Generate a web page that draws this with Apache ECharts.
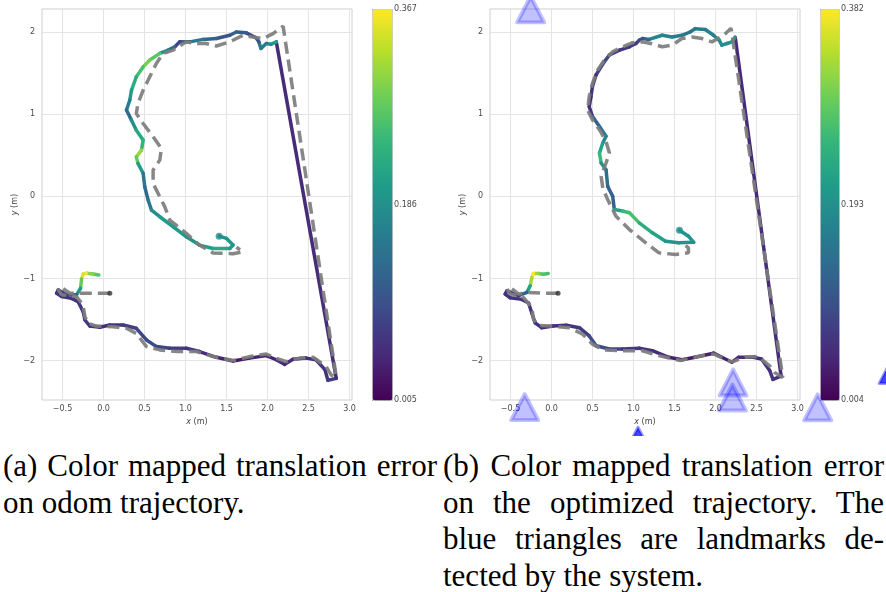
<!DOCTYPE html>
<html><head><meta charset="utf-8">
<script src="https://cdn.jsdelivr.net/npm/echarts@6/dist/echarts.min.js"></script>
<style>
html,body{margin:0;padding:0;background:#fff;overflow:hidden;width:886px;height:592px;}
#chart{position:absolute;left:0;top:0;width:886px;height:436px;}
.cap{position:absolute;font-family:'Liberation Serif','DejaVu Serif',serif;font-size:31px;line-height:36.7px;color:#000;white-space:nowrap;}
.j{text-align:justify;text-align-last:justify;}
</style></head><body>
<div id="chart"></div>
<div class="cap" style="left:3px;top:448px;width:434px;"><div class="j">(a) Color mapped translation error</div><div>on odom trajectory.</div></div>
<div class="cap" style="left:443px;top:448px;width:441px;"><div class="j">(b) Color mapped translation error</div><div class="j">on the optimized trajectory. The</div><div class="j">blue triangles are landmarks de-</div><div>tected by the system.</div></div>
<script>
const viridis = ['#440154','#482878','#3e4989','#31688e','#26828e','#1f9e89','#35b779','#6ece58','#b5de2b','#fde725'];

// (a) odometry trajectory: x, y, translation error
const odomX = [-0.057,-0.126,-0.207,-0.248,-0.268,-0.28,-0.329,-0.45,-0.552,-0.572,-0.51,-0.39,-0.309,-0.248,-0.227,-0.166,-0.045,0.077,0.24,0.40,0.524,0.646,0.808,1.01,1.17,1.376,1.58,1.78,1.985,2.107,2.21,2.31,2.47,2.59,2.70,2.736,2.838,2.107,2.04,1.985,1.92,1.894,1.86,1.74,1.62,1.54,1.376,1.214,1.05,0.93,0.87,0.788,0.686,0.564,0.483,0.40,0.341,0.32,0.28,0.341,0.40,0.483,0.463,0.40,0.42,0.483,0.503,0.544,0.585,0.686,0.85,1.01,1.17,1.336,1.54,1.58,1.50,1.41];
const odomY = [-0.959,-0.946,-0.938,-0.946,-1.008,-1.12,-1.20,-1.20,-1.14,-1.18,-1.22,-1.243,-1.283,-1.405,-1.506,-1.58,-1.595,-1.567,-1.567,-1.607,-1.749,-1.83,-1.85,-1.85,-1.89,-1.96,-2.005,-1.97,-1.94,-1.99,-2.046,-1.985,-1.97,-1.99,-2.11,-2.24,-2.217,1.88,1.85,1.86,1.80,1.88,1.93,1.99,2.0,1.96,1.92,1.91,1.88,1.88,1.82,1.78,1.74,1.66,1.575,1.455,1.29,1.17,1.05,0.927,0.805,0.684,0.562,0.48,0.40,0.28,0.116,-0.046,-0.168,-0.249,-0.371,-0.493,-0.594,-0.635,-0.635,-0.594,-0.513,-0.485];
const odomErr = [0.27,0.30,0.36,0.35,0.28,0.20,0.12,0.07,0.06,0.06,0.06,0.06,0.06,0.07,0.07,0.06,0.05,0.06,0.07,0.08,0.09,0.08,0.07,0.06,0.05,0.04,0.03,0.04,0.04,0.05,0.05,0.05,0.05,0.06,0.06,0.07,0.05,0.20,0.18,0.16,0.15,0.10,0.08,0.11,0.12,0.10,0.12,0.15,0.12,0.08,0.12,0.18,0.27,0.29,0.26,0.23,0.20,0.16,0.13,0.19,0.22,0.24,0.31,0.28,0.20,0.15,0.13,0.15,0.18,0.20,0.20,0.19,0.20,0.22,0.20,0.20,0.19,0.18];
// (a) ground truth
const gtAX = [0.077,-0.166,-0.41,-0.53,-0.55,-0.51,-0.33,-0.25,-0.227,-0.187,-0.085,0.118,0.28,0.40,0.524,0.686,0.89,1.13,1.336,1.58,1.82,1.985,2.107,2.23,2.39,2.556,2.716,2.777,2.838,2.19,2.067,1.945,1.82,1.70,1.54,1.376,1.25,1.13,1.01,0.85,0.727,0.646,0.564,0.483,0.42,0.40,0.483,0.605,0.706,0.686,0.605,0.605,0.666,0.747,0.808,1.01,1.17,1.336,1.58,1.70,1.62];
const gtAY = [-1.18,-1.18,-1.18,-1.10,-1.14,-1.20,-1.22,-1.32,-1.466,-1.547,-1.58,-1.587,-1.607,-1.67,-1.83,-1.87,-1.89,-1.89,-1.95,-2.0,-1.945,-1.92,-1.973,-2.013,-1.97,-1.96,-2.074,-2.176,-2.20,2.07,1.98,1.92,1.94,1.96,1.88,1.83,1.86,1.86,1.88,1.78,1.74,1.62,1.455,1.29,1.13,1.007,0.886,0.724,0.582,0.44,0.32,0.157,0.035,-0.128,-0.29,-0.452,-0.594,-0.69,-0.70,-0.675,-0.62];

// (b) optimized trajectory
const optX = [-0.04,-0.10,-0.16,-0.22,-0.24,-0.26,-0.30,-0.40,-0.544,-0.565,-0.504,-0.363,-0.28,-0.24,-0.20,-0.12,0.02,0.18,0.34,0.46,0.544,0.706,0.867,1.07,1.23,1.43,1.59,1.75,1.976,2.077,2.20,2.28,2.46,2.56,2.66,2.70,2.80,2.24,2.20,2.14,2.077,2.044,1.976,1.875,1.75,1.69,1.59,1.47,1.35,1.19,1.11,1.07,1.03,0.95,0.83,0.706,0.645,0.544,0.50,0.48,0.46,0.50,0.585,0.665,0.625,0.585,0.605,0.665,0.685,0.746,0.766,0.867,0.95,1.07,1.23,1.39,1.55,1.734,1.67,1.56];
const optY = [-0.94,-0.95,-0.94,-0.94,-0.99,-1.09,-1.17,-1.21,-1.15,-1.19,-1.235,-1.255,-1.30,-1.42,-1.54,-1.60,-1.58,-1.57,-1.60,-1.70,-1.82,-1.86,-1.86,-1.85,-1.88,-1.96,-1.99,-1.96,-1.91,-1.96,-2.02,-1.96,-1.96,-1.98,-2.12,-2.23,-2.19,1.935,1.88,1.86,1.84,1.90,1.96,2.03,2.04,2.0,1.96,1.94,1.96,1.91,1.92,1.90,1.86,1.82,1.78,1.72,1.64,1.48,1.34,1.21,1.09,0.97,0.85,0.73,0.648,0.526,0.405,0.324,0.121,0.0,-0.162,-0.18,-0.20,-0.324,-0.445,-0.547,-0.567,-0.56,-0.486,-0.413];
const optErr = [0.27,0.28,0.32,0.38,0.33,0.22,0.12,0.07,0.06,0.06,0.06,0.06,0.06,0.06,0.06,0.05,0.05,0.06,0.07,0.09,0.09,0.08,0.07,0.06,0.05,0.04,0.03,0.04,0.04,0.04,0.04,0.05,0.05,0.06,0.06,0.06,0.05,0.20,0.20,0.19,0.19,0.18,0.17,0.16,0.16,0.15,0.16,0.17,0.18,0.13,0.10,0.08,0.07,0.06,0.07,0.09,0.08,0.06,0.06,0.05,0.06,0.12,0.15,0.18,0.22,0.26,0.20,0.14,0.12,0.12,0.22,0.26,0.27,0.24,0.22,0.20,0.20,0.20,0.20,0.19];
// (b) ground truth
const gtBX = [0.08,-0.1,-0.28,-0.40,-0.504,-0.544,-0.50,-0.34,-0.24,-0.22,-0.16,-0.02,0.22,0.38,0.50,0.625,0.867,1.11,1.31,1.57,1.79,1.976,2.10,2.20,2.36,2.52,2.66,2.72,2.82,2.19,2.10,1.956,1.835,1.71,1.59,1.47,1.35,1.21,1.11,0.99,0.867,0.746,0.645,0.565,0.50,0.46,0.44,0.50,0.585,0.665,0.706,0.665,0.605,0.625,0.685,0.786,0.95,1.15,1.31,1.51,1.67,1.67,1.62];
const gtBY = [-1.18,-1.18,-1.17,-1.19,-1.11,-1.13,-1.19,-1.235,-1.356,-1.50,-1.57,-1.58,-1.60,-1.68,-1.80,-1.87,-1.88,-1.88,-1.94,-2.0,-1.95,-1.92,-1.976,-2.016,-1.96,-1.95,-2.065,-2.146,-2.206,2.045,1.96,1.88,1.92,1.94,1.92,1.84,1.82,1.86,1.88,1.87,1.82,1.76,1.66,1.54,1.376,1.215,1.05,0.93,0.81,0.668,0.526,0.405,0.243,0.10,-0.04,-0.243,-0.405,-0.567,-0.688,-0.708,-0.688,-0.628,-0.59];

// landmarks
const lmX = [-0.254,-0.327,2.214,2.206,3.246];
const lmY = [2.275,-2.567,-2.267,-2.45,-2.57];
const lmSolidX = [1.055,4.16];
const lmSolidY = [-2.97,-2.12];

// ticks
const xTicks = [-0.5,0,0.5,1,1.5,2,2.5,3];
const yTicks = [-2,-1,0,1,2];
const cbTicksA = [0.005,0.186,0.367];
const cbTicksB = [0.004,0.193,0.382];

const minus = s => s.replace('-', '\u2212');
function segs(xs, ys, es) {
  const out = [];
  for (let i = 0; i < xs.length - 1; i++) out.push([xs[i], ys[i], xs[i+1], ys[i+1], es[i]]);
  return out;
}
const pts = (xs, ys) => xs.map((x, i) => [x, ys[i]]);
const last = (xs, ys, es) => { const n = xs.length - 1; return [[xs[n], ys[n], xs[n], ys[n], es[n]]]; };

const tickFont = {fontFamily:'DejaVu Sans', fontSize:8, color:'#4a4a4a'};
function mainX(gi) {
  return {gridIndex:gi, type:'value', min:-0.75, max:3.03,
    axisLine:{show:false}, axisTick:{show:false, customValues:xTicks},
    axisLabel:Object.assign({customValues:xTicks, margin:5, formatter:v=>minus(v.toFixed(1))}, tickFont),
    splitLine:{show:true, lineStyle:{color:'#e4e4e4', width:1}},
    name:'{i|x} (m)', nameLocation:'middle', nameGap:14,
    nameTextStyle:{fontFamily:'DejaVu Sans', fontSize:8, color:'#444', rich:{i:{fontStyle:'italic', fontFamily:'DejaVu Sans', fontSize:8, color:'#444'}}}};
}
function mainY(gi) {
  return {gridIndex:gi, type:'value', min:-2.48, max:2.28,
    axisLine:{show:false}, axisTick:{show:false, customValues:yTicks},
    axisLabel:Object.assign({customValues:yTicks, margin:7, formatter:v=>minus(String(v))}, tickFont),
    splitLine:{show:true, lineStyle:{color:'#e4e4e4', width:1}},
    name:'{i|y} (m)', nameLocation:'middle', nameGap:22,
    nameTextStyle:{fontFamily:'DejaVu Sans', fontSize:8, color:'#444', rich:{i:{fontStyle:'italic', fontFamily:'DejaVu Sans', fontSize:8, color:'#444'}}}};
}
function cbX(gi) { return {gridIndex:gi, type:'value', min:0, max:1, show:false}; }
function cbY(gi, ticks) {
  return {gridIndex:gi, type:'value', position:'right', min:ticks[0], max:ticks[2],
    axisLine:{show:false}, axisTick:{show:true, length:3, customValues:ticks, lineStyle:{color:'#555'}},
    axisLabel:Object.assign({customValues:ticks, margin:2, formatter:v=>v.toFixed(3)}, tickFont),
    splitLine:{show:false}};
}
function traj(ax, data) {
  return {type:'custom', xAxisIndex:ax, yAxisIndex:ax, data:data, encode:{x:[0,2], y:[1,3]}, z:2,
    renderItem:(params, api) => {
      const p0 = api.coord([api.value(0), api.value(1)]);
      const p1 = api.coord([api.value(2), api.value(3)]);
      return {type:'line', shape:{x1:p0[0], y1:p0[1], x2:p1[0], y2:p1[1]},
        style:{stroke:api.visual('color'), lineWidth:3.5, lineCap:'round'}};
    }};
}
function gtLine(ax, xs, ys) {
  return {type:'line', xAxisIndex:ax, yAxisIndex:ax, data:pts(xs, ys), showSymbol:false, z:3,
    lineStyle:{color:'rgba(125,125,125,0.92)', width:3.5, type:[12,6]}};
}
function dot(ax, data, color, size) {
  return {type:'scatter', xAxisIndex:ax, yAxisIndex:ax, data:data, symbolSize:size, z:4,
    itemStyle:color ? {color:color} : {}};
}

const chart = echarts.init(document.getElementById('chart'), null, {renderer:'canvas'});
chart.setOption({
  animation:false,
  backgroundColor:'#fff',
  grid:[
    {left:42, top:9, width:310, height:391, show:true, borderColor:'#cfcfcf', borderWidth:1},
    {left:372, top:9, width:20, height:391, show:false},
    {left:490, top:9, width:310, height:391, show:true, borderColor:'#cfcfcf', borderWidth:1},
    {left:820, top:9, width:19, height:391, show:false}
  ],
  xAxis:[mainX(0), cbX(1), mainX(2), cbX(3)],
  yAxis:[mainY(0), cbY(1, cbTicksA), mainY(2), cbY(3, cbTicksB)],
  visualMap:[
    {type:'continuous', min:cbTicksA[0], max:cbTicksA[2], dimension:4, seriesIndex:[0,2], calculable:false, hoverLink:false,
      inRange:{color:viridis}, left:372, top:9, itemWidth:20, itemHeight:391, padding:0, borderColor:'#cccccc', borderWidth:1},
    {type:'continuous', min:cbTicksB[0], max:cbTicksB[2], dimension:4, seriesIndex:[4,6], calculable:false, hoverLink:false,
      inRange:{color:viridis}, left:820, top:9, itemWidth:19, itemHeight:391, padding:0, borderColor:'#cccccc', borderWidth:1}
  ],
  series:[
    traj(0, segs(odomX, odomY, odomErr)),
    gtLine(0, gtAX, gtAY),
    dot(0, last(odomX, odomY, odomErr), null, 7),
    dot(0, [[gtAX[0], gtAY[0]]], '#333', 5),
    traj(2, segs(optX, optY, optErr)),
    gtLine(2, gtBX, gtBY),
    dot(2, last(optX, optY, optErr), null, 7),
    dot(2, [[gtBX[0], gtBY[0]]], '#333', 5),
    {type:'scatter', xAxisIndex:2, yAxisIndex:2, data:pts(lmX, lmY), symbol:'triangle', symbolSize:[27,26], clip:false, z:10,
      itemStyle:{color:'rgba(0,0,255,0.3)', borderColor:'rgba(0,0,255,0.3)', borderWidth:4, borderJoin:'round'}},
    {type:'scatter', xAxisIndex:2, yAxisIndex:2, data:pts(lmSolidX, lmSolidY), symbol:'triangle', symbolSize:[27,26], clip:false, z:10,
      itemStyle:{color:'rgba(0,0,255,0.9)', borderColor:'rgba(0,0,255,0.5)', borderWidth:3, borderJoin:'round'}}
  ]
});
</script>
</body></html>
